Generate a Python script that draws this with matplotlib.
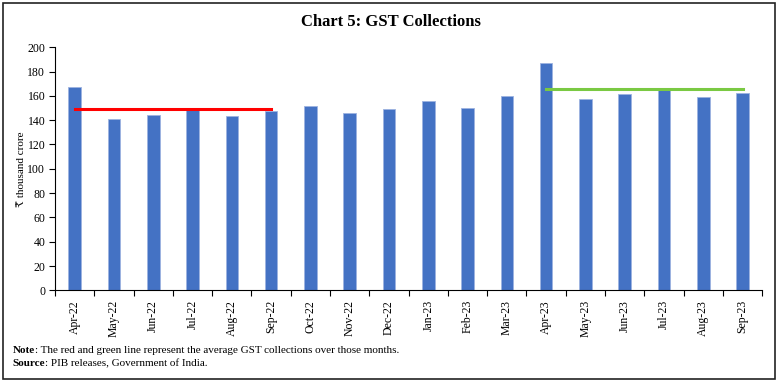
import numpy as np
import matplotlib.pyplot as plt
from matplotlib.patches import Rectangle

plt.rcParams.update({
    'font.family': ['Liberation Serif', 'DejaVu Serif'],
    'font.size': 8.5, 'axes.linewidth': 0.8,
})

months = ['Apr-22', 'May-22', 'Jun-22', 'Jul-22', 'Aug-22', 'Sep-22',
          'Oct-22', 'Nov-22', 'Dec-22', 'Jan-23', 'Feb-23', 'Mar-23',
          'Apr-23', 'May-23', 'Jun-23', 'Jul-23', 'Aug-23', 'Sep-23']
gst = [167.5, 140.9, 144.6, 148.9, 143.6, 147.7,
       151.7, 145.9, 149.5, 155.9, 149.6, 160.1,
       187.0, 157.1, 161.5, 165.1, 159.1, 162.7]
avg_22 = np.mean(gst[0:6])
avg_23 = np.mean(gst[12:18])

fig = plt.figure(figsize=(7.78, 3.81), dpi=100)
ax = fig.add_axes([0.0707, 0.238, 0.909, 0.638])
x = np.arange(len(months))
ax.bar(x, gst, width=0.32, color='#4472C4', edgecolor='#9DB3E0', linewidth=0.6)
ax.plot([0, 5], [avg_22, avg_22], color='#FF0000', lw=2.2)
ax.plot([12, 17], [avg_23, avg_23], color='#7AC943', lw=2.2)

ax.set_xlim(-0.5, len(months) - 0.5)
ax.set_ylim(0, 200)
ax.set_yticks(range(0, 201, 20))
ax.set_xticks(x)
ax.set_xticklabels(months, rotation=90)
ax.set_xticks(np.arange(-0.5, len(months), 1), minor=True)
ax.tick_params(axis='x', which='major', length=0, pad=7)
ax.tick_params(axis='x', which='minor', length=4, width=0.8, direction='out')
ax.tick_params(axis='y', length=4, width=0.8, direction='out', pad=3)
for s in ['top', 'right']:
    ax.spines[s].set_visible(False)
ax.set_ylabel('₹ thousand crore', fontsize=8, labelpad=1)

fig.text(0.502, 0.943, 'Chart 5: GST Collections', ha='center', va='center',
         fontsize=12, fontweight='bold')

# footnotes: bold lead word, then the rest placed right after it
notes = [('Note', ': The red and green line represent the average GST collections over those months.', 0.079),
         ('Source', ': PIB releases, Government of India.', 0.046)]
fig.canvas.draw()
r = fig.canvas.get_renderer()
for lead, rest, yy in notes:
    t = fig.text(0.016, yy, lead, fontsize=8, va='center', fontweight='bold')
    bb = t.get_window_extent(renderer=r)
    fig.text(bb.x1 / fig.bbox.width, yy, rest, fontsize=8, va='center')

fig.patches.append(Rectangle((0.004, 0.006), 0.992, 0.985, transform=fig.transFigure,
                             fill=False, edgecolor='#222222', lw=1.2))
fig.savefig('out.png', dpi=100)
